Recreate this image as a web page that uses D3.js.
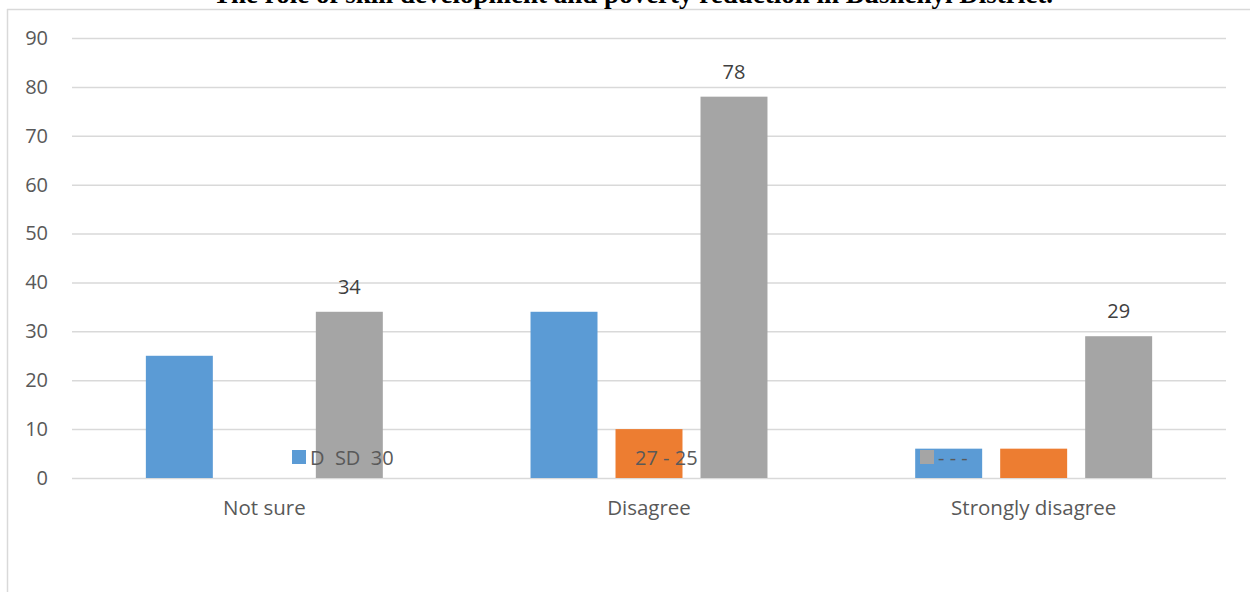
<!DOCTYPE html>
<html>
<head>
<meta charset="utf-8">
<script src="https://cdn.jsdelivr.net/npm/d3@7"></script>
<style>
  html, body { margin: 0; padding: 0; background: #ffffff; }
  svg { display: block; }
  text { font-family: "Open Sans", "Liberation Sans", sans-serif; }
</style>
</head>
<body>
<svg id="chart" width="1250" height="592"></svg>
<script>
// Survey responses on skill development and poverty reduction
const title = "The role of skill development and poverty reduction in Bushenyi District.";
const categories = ["Not sure", "Disagree", "Strongly disagree"];
const seriesNames = ["D  SD  30", "27 - 25", "- - -"];
const blueValues = [25, 34, 6];
const orangeValues = [0, 10, 6];
const grayValues = [34, 78, 29];
const yTicks = [0, 10, 20, 30, 40, 50, 60, 70, 80, 90];

const seriesColors = ["#5B9BD5", "#ED7D31", "#A5A5A5"];
const seriesValues = [blueValues, orangeValues, grayValues];
const labelledSeries = [false, false, true];

const W = 1250, H = 592;
const plot = { left: 72, right: 1226, top: 38, bottom: 478 };

const svg = d3.select("#chart");

// outer chart frame (top and left edges visible)
svg.append("line").attr("x1", 7).attr("x2", W).attr("y1", 9.5).attr("y2", 9.5)
  .attr("stroke", "#d9d9d9").attr("stroke-width", 1.5);
svg.append("line").attr("x1", 7.5).attr("x2", 7.5).attr("y1", 9).attr("y2", H)
  .attr("stroke", "#d9d9d9").attr("stroke-width", 1.5);

// heading, running off the top of the page
svg.append("text")
  .attr("x", 633).attr("y", 3)
  .attr("text-anchor", "middle")
  .style("font-family", "'Liberation Serif', 'Times New Roman', serif")
  .style("font-weight", "bold")
  .style("font-size", "27px")
  .attr("fill", "#000")
  .text(title);

const y = d3.scaleLinear().domain([0, 90]).range([plot.bottom, plot.top]);
const x0 = d3.scaleBand().domain(categories).range([plot.left, plot.right]).padding(0);
const groupW = x0.bandwidth() * 0.616;
const x1 = d3.scaleBand().domain(d3.range(seriesNames.length))
  .range([0, groupW]).paddingInner(0.212).paddingOuter(0);
const groupOffset = (x0.bandwidth() - groupW) / 2;

// horizontal gridlines + tick labels
const yAxis = d3.axisLeft(y).tickValues(yTicks)
  .tickSize(-(plot.right - plot.left)).tickPadding(24).tickFormat(d3.format("d"));
const gy = svg.append("g").attr("transform", `translate(${plot.left},0)`).call(yAxis);
gy.select(".domain").remove();
gy.selectAll(".tick line").attr("stroke", "#d9d9d9").attr("stroke-width", 1.5);
gy.selectAll(".tick text").attr("fill", "#595959")
  .style("font-size", "20px").style("font-family", "'Open Sans', sans-serif");

// category axis labels
const xAxis = d3.axisBottom(x0).tickSize(0).tickPadding(22);
const gx = svg.append("g").attr("transform", `translate(0,${plot.bottom})`).call(xAxis);
gx.select(".domain").remove();
gx.selectAll(".tick text").attr("fill", "#595959")
  .style("font-size", "20.5px").style("font-family", "'Open Sans', sans-serif");

// bars
const rows = [];
categories.forEach((c, ci) => {
  seriesValues.forEach((vals, si) => rows.push({ c, si, v: vals[ci] }));
});

svg.append("g").selectAll("rect").data(rows).join("rect")
  .attr("x", d => x0(d.c) + groupOffset + x1(d.si))
  .attr("y", d => y(d.v))
  .attr("width", x1.bandwidth())
  .attr("height", d => y(0) - y(d.v))
  .attr("fill", d => seriesColors[d.si]);

// value labels
svg.append("g").selectAll("text").data(rows.filter(d => labelledSeries[d.si])).join("text")
  .attr("x", d => x0(d.c) + groupOffset + x1(d.si) + x1.bandwidth() / 2)
  .attr("y", d => y(d.v) - 18)
  .attr("text-anchor", "middle")
  .attr("fill", "#404040")
  .style("font-size", "20px")
  .text(d => d.v);

// legend drawn over the plot
const legendX = [292, 617, 920];
const legendY = 450;
const lg = svg.append("g").selectAll("g").data(seriesNames).join("g")
  .attr("transform", (d, i) => `translate(${legendX[i]},${legendY})`);
lg.append("rect").attr("width", 14).attr("height", 14)
  .attr("fill", (d, i) => seriesColors[i]);
lg.append("text").attr("x", 18).attr("y", 14.5)
  .attr("fill", "#595959")
  .style("font-size", "20px")
  .style("white-space", "pre")
  .text(d => d);
</script>
</body>
</html>
